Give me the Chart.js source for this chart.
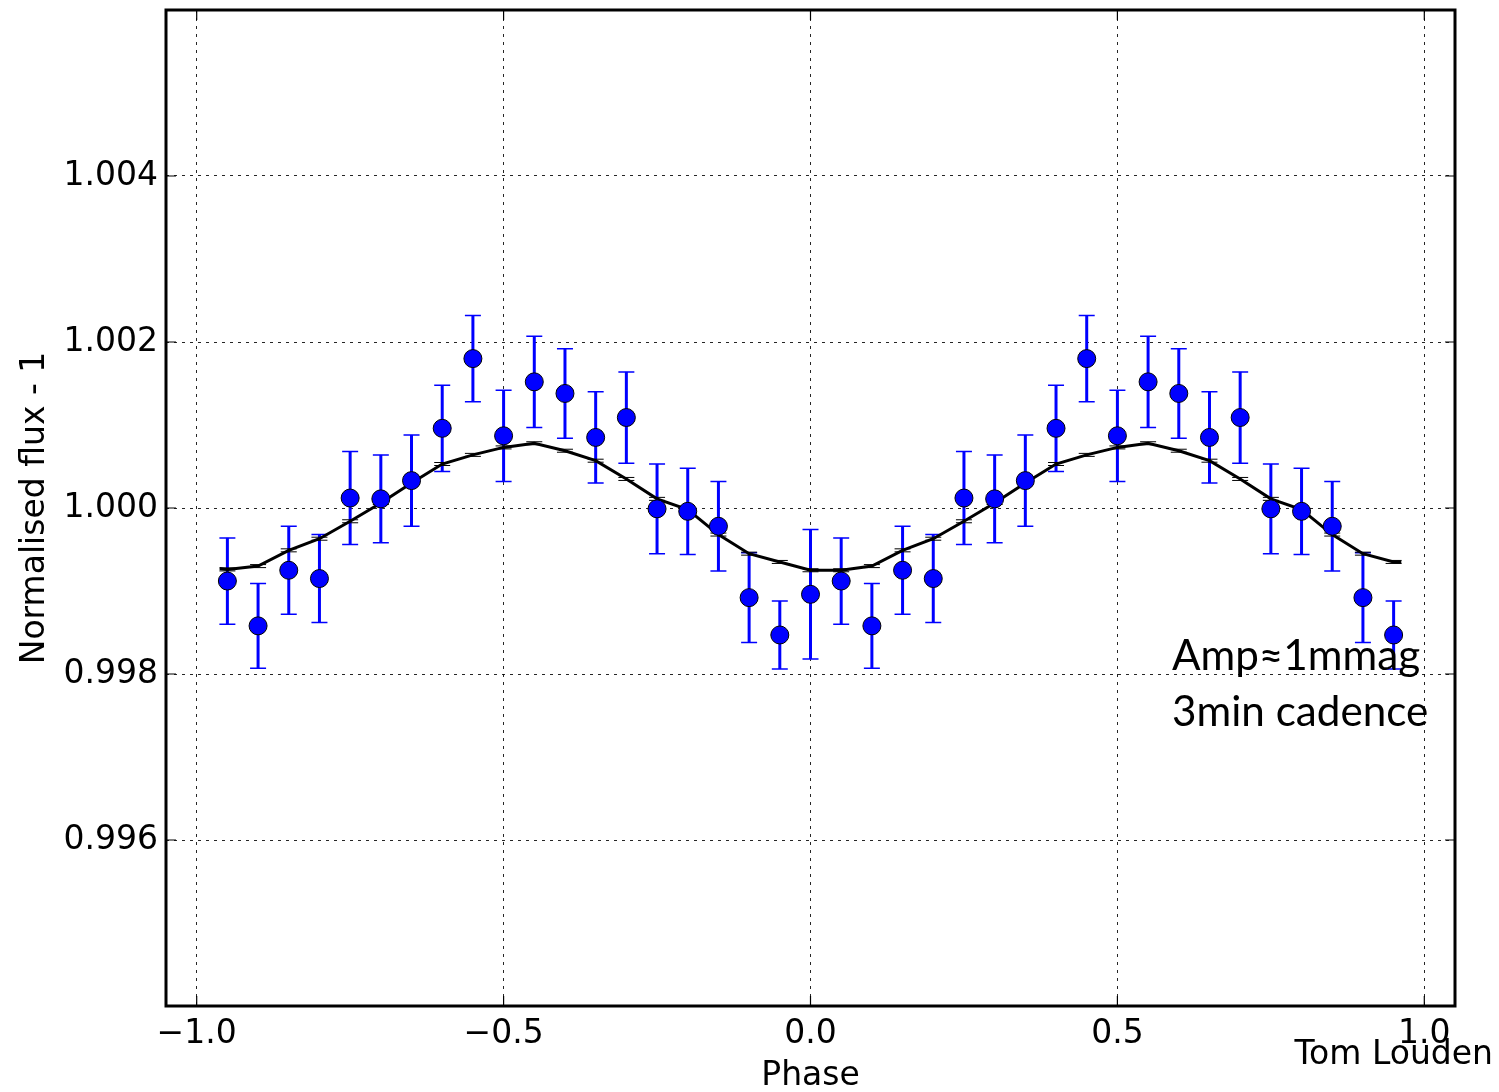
<!DOCTYPE html>
<html>
<head>
  <title>Phase-folded light curve</title>
  <style>
    body {
      margin: 0;
      background: #fff;
    }
    canvas {
      display: block;
    }
  </style>
</head>
<body>
  <canvas id="lcChart" width="1499" height="1092"></canvas>

  <script src="https://cdn.jsdelivr.net/npm/chart.js"></script>

  <script>
    // binned points (blue)
    const binPhase = [-0.95, -0.90, -0.85, -0.80, -0.75, -0.70, -0.65, -0.60, -0.55, -0.50,
                      -0.45, -0.40, -0.35, -0.30, -0.25, -0.20, -0.15, -0.10, -0.05, 0.00,
                       0.05,  0.10,  0.15,  0.20,  0.25,  0.30,  0.35,  0.40,  0.45,  0.50,
                       0.55,  0.60,  0.65,  0.70,  0.75,  0.80,  0.85,  0.90,  0.95];
    const binFlux = [0.99912, 0.99858, 0.99925, 0.99915, 1.00012, 1.00011, 1.00033, 1.00096, 1.00180, 1.00087,
                     1.00152, 1.00138, 1.00085, 1.00109, 0.99999, 0.99996, 0.99978, 0.99892, 0.99847, 0.99896,
                     0.99912, 0.99858, 0.99925, 0.99915, 1.00012, 1.00011, 1.00033, 1.00096, 1.00180, 1.00087,
                     1.00152, 1.00138, 1.00085, 1.00109, 0.99999, 0.99996, 0.99978, 0.99892, 0.99847];
    const binErr = [0.00052, 0.00051, 0.00053, 0.00053, 0.00056, 0.00053, 0.00055, 0.00052, 0.00052, 0.00055,
                    0.00055, 0.00054, 0.00055, 0.00055, 0.00054, 0.00052, 0.00054, 0.00054, 0.00041, 0.00078,
                    0.00052, 0.00051, 0.00053, 0.00053, 0.00056, 0.00053, 0.00055, 0.00052, 0.00052, 0.00055,
                    0.00055, 0.00054, 0.00055, 0.00055, 0.00054, 0.00052, 0.00054, 0.00054, 0.00041];

    // model curve (black)
    const modelPhase = [-0.9625, -0.95, -0.90, -0.85, -0.80, -0.75, -0.70, -0.65, -0.60, -0.55, -0.50,
                        -0.45, -0.40, -0.35, -0.30, -0.25, -0.20, -0.15, -0.10, -0.05, 0.00,
                         0.05,  0.10,  0.15,  0.20,  0.25,  0.30,  0.35,  0.40,  0.45,  0.50,
                         0.55,  0.60,  0.65,  0.70,  0.75,  0.80,  0.85,  0.90,  0.95, 0.9625];
    const modelFlux = [0.99927, 0.99926, 0.99930, 0.99949, 0.99963, 0.99984, 1.00006, 1.00030, 1.00053, 1.00064, 1.00073,
                       1.00078, 1.00069, 1.00057, 1.00035, 1.00011, 0.99998, 0.99968, 0.99945, 0.99935, 0.99925,
                       0.99925, 0.99930, 0.99949, 0.99963, 0.99984, 1.00006, 1.00030, 1.00053, 1.00064, 1.00073,
                       1.00078, 1.00069, 1.00057, 1.00035, 1.00011, 0.99998, 0.99968, 0.99945, 0.99935, 0.99935];

    const xTicks = [-1.0, -0.5, 0.0, 0.5, 1.0];
    const yTicks = [0.996, 0.998, 1.000, 1.002, 1.004];
    const notes = ['Amp\u22481mmag', '3min cadence'];
    const credit = 'Tom Louden';

    Chart.defaults.font.family = "'DejaVu Sans', sans-serif";
    Chart.defaults.color = '#000';

    // error bars, frame, inside ticks and the text notes
    const extras = {
      id: 'extras',
      beforeDatasetsDraw(chart) {
        const { ctx, scales: { x, y } } = chart;
        ctx.save();
        ctx.strokeStyle = '#0000ff';
        binPhase.forEach((p, i) => {
          const px = x.getPixelForValue(p);
          const top = y.getPixelForValue(binFlux[i] + binErr[i]);
          const bot = y.getPixelForValue(binFlux[i] - binErr[i]);
          ctx.lineWidth = 3;
          ctx.beginPath();
          ctx.moveTo(px, top);
          ctx.lineTo(px, bot);
          ctx.stroke();
          ctx.lineWidth = 1.5;
          ctx.beginPath();
          ctx.moveTo(px - 8, top); ctx.lineTo(px + 8, top);
          ctx.moveTo(px - 8, bot); ctx.lineTo(px + 8, bot);
          ctx.stroke();
        });
        // tiny caps sitting on the model curve
        ctx.strokeStyle = '#000';
        ctx.lineWidth = 1;
        modelPhase.forEach((p, i) => {
          if (i === 0 || i === modelPhase.length - 1) return;
          const px = x.getPixelForValue(p);
          const py = y.getPixelForValue(modelFlux[i]);
          ctx.beginPath();
          ctx.moveTo(px - 8, py - 1.5); ctx.lineTo(px + 8, py - 1.5);
          ctx.moveTo(px - 8, py + 1.5); ctx.lineTo(px + 8, py + 1.5);
          ctx.stroke();
        });
        ctx.restore();
      },
      afterDraw(chart) {
        const { ctx, chartArea: a, scales: { x, y } } = chart;
        ctx.save();
        ctx.strokeStyle = '#000';
        ctx.lineWidth = 1.2;
        ctx.beginPath();
        yTicks.forEach(v => {
          const py = y.getPixelForValue(v);
          ctx.moveTo(a.left, py); ctx.lineTo(a.left + 10, py);
          ctx.moveTo(a.right, py); ctx.lineTo(a.right - 10, py);
        });
        xTicks.forEach(v => {
          const px = x.getPixelForValue(v);
          ctx.moveTo(px, a.bottom); ctx.lineTo(px, a.bottom - 10);
          ctx.moveTo(px, a.top); ctx.lineTo(px, a.top + 10);
        });
        ctx.stroke();

        ctx.lineWidth = 3;
        ctx.strokeRect(a.left, a.top, a.right - a.left, a.bottom - a.top);

        // notes, fitted to the width they have in the picture
        ctx.fillStyle = '#000';
        ctx.textAlign = 'left';
        ctx.textBaseline = 'alphabetic';
        ctx.font = "38px Lato, 'Open Sans', sans-serif";
        const size = 38 * 248 / ctx.measureText(notes[0]).width;
        ctx.font = size.toFixed(1) + "px Lato, 'Open Sans', sans-serif";
        ctx.fillText(notes[0], x.getPixelForValue(0.589), y.getPixelForValue(0.99805));
        ctx.fillText(notes[1], x.getPixelForValue(0.589), y.getPixelForValue(0.99737));

        ctx.font = "33px 'DejaVu Sans', sans-serif";
        ctx.textAlign = 'right';
        ctx.fillText(credit, 1493, 1064);
        ctx.restore();
      }
    };

    const ctx = document.getElementById('lcChart').getContext('2d');
    const chart = new Chart(ctx, {
      type: 'scatter',
      data: {
        datasets: [
          {
            label: 'binned',
            data: binPhase.map((p, i) => ({ x: p, y: binFlux[i] })),
            pointRadius: 9,
            pointBackgroundColor: '#0000ff',
            pointBorderColor: '#000',
            pointBorderWidth: 1,
            order: 0
          },
          {
            label: 'model',
            data: modelPhase.map((p, i) => ({ x: p, y: modelFlux[i] })),
            showLine: true,
            borderColor: '#000',
            borderWidth: 3,
            pointRadius: 0,
            tension: 0,
            order: 1
          }
        ]
      },
      options: {
        responsive: false,
        animation: false,
        layout: { padding: { top: 10, right: 44, left: 0, bottom: 0 } },
        plugins: {
          legend: { display: false },
          tooltip: { enabled: false }
        },
        scales: {
          x: {
            type: 'linear',
            min: -1.05,
            max: 1.05,
            afterBuildTicks: s => { s.ticks = xTicks.map(v => ({ value: v })); },
            afterFit: s => { s.height = 86; s.paddingLeft = 0; s.paddingRight = 0; },
            ticks: {
              autoSkip: false,
              padding: 9,
              maxRotation: 0,
              font: { size: 33 },
              callback: v => (v < 0 ? '\u2212' : '') + Math.abs(v).toFixed(1)
            },
            grid: { color: 'rgba(0,0,0,0.85)', lineWidth: 1, drawTicks: false },
            border: { display: false, dash: [3, 5] },
            title: {
              display: true,
              text: 'Phase',
              font: { size: 33, lineHeight: 1.05 },
              padding: { top: 0, bottom: -2 }
            }
          },
          y: {
            type: 'linear',
            min: 0.994,
            max: 1.006,
            afterBuildTicks: s => { s.ticks = yTicks.map(v => ({ value: v })); },
            afterFit: s => { s.width = 166; s.paddingTop = 0; s.paddingBottom = 0; },
            ticks: {
              autoSkip: false,
              padding: 8,
              font: { size: 33 },
              callback: v => v.toFixed(3)
            },
            grid: { color: 'rgba(0,0,0,0.85)', lineWidth: 1, drawTicks: false },
            border: { display: false, dash: [3, 5] },
            title: {
              display: true,
              text: 'Normalised flux - 1',
              font: { size: 33, lineHeight: 1.05 },
              padding: { top: 18, bottom: 0 }
            }
          }
        }
      },
      plugins: [extras]
    });
  </script>
</body>
</html>
